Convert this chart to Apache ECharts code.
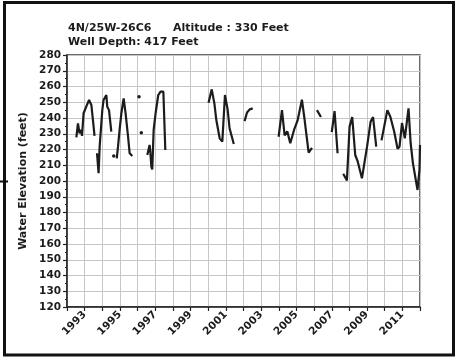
<!DOCTYPE html>
<html>
<head>
<meta charset="utf-8">
<script src="https://cdn.jsdelivr.net/npm/echarts@6/dist/echarts.min.js"></script>
<style>
  html, body { margin: 0; padding: 0; background: #ffffff; }
  #chart { width: 462px; height: 358px; }
</style>
</head>
<body>
<div id="chart"></div>
<script>
// Well 4N/25W-26C6 water elevation record; null entries break the line between measurement runs.
const years = [
  1992.53, 1992.62, 1992.71, 1992.81, 1992.85, 1992.94, 1993.09, 1993.25, 1993.38, 1993.47, 1993.56, null,
  1993.70, 1993.79, 1993.85, 1994.00, 1994.07, 1994.23, 1994.28, 1994.38, 1994.51, null,
  1994.65, null,
  1994.82, 1994.89, 1994.98, 1995.08, 1995.21, 1995.32, 1995.46, 1995.55, 1995.70, null,
  1996.08, null,
  1996.21, null,
  1996.55, 1996.68, 1996.72, 1996.78, 1996.83, 1996.91, 1997.02, 1997.17, 1997.30, 1997.46, 1997.57, null,
  2000.02, 2000.20, 2000.35, 2000.46, 2000.65, 2000.80, 2000.95, 2001.10, 2001.21, 2001.45, null,
  2002.06, 2002.20, 2002.35, 2002.52, null,
  2003.99, 2004.18, 2004.33, 2004.48, 2004.65, 2004.88, 2005.07, 2005.31, 2005.44, 2005.69, 2005.88, null,
  2006.16, 2006.39, null,
  2007.00, 2007.16, 2007.33, null,
  2007.65, 2007.86, 2008.01, 2008.16, 2008.33, 2008.46, 2008.71, 2009.00, 2009.20, 2009.34, 2009.52, null,
  2009.82, 2010.15, 2010.32, 2010.54, 2010.73, 2010.84, 2010.98, 2011.14, 2011.35, 2011.47, 2011.60, 2011.86, 2011.97, 2012.00
];
const levels = [
  227.7, 236.6, 230.3, 232.4, 228.6, 243.0, 247.2, 251.4, 248.3, 238.7, 228.6, null,
  217.6, 204.9, 221.8, 245.0, 251.4, 254.6, 247.2, 245.0, 231.3, null,
  215.9, null,
  214.4, 221.8, 232.4, 243.0, 252.5, 243.0, 228.1, 217.6, 215.9, null,
  253.5, null,
  230.7, null,
  216.5, 222.9, 218.6, 209.1, 207.4, 232.4, 243.0, 254.6, 256.7, 256.7, 219.7, null,
  249.7, 258.2, 249.3, 238.7, 227.1, 225.0, 254.6, 245.5, 233.5, 223.5, null,
  238.0, 243.5, 245.5, 246.1, null,
  228.1, 245.0, 228.9, 231.5, 224.0, 233.0, 238.7, 251.6, 240.8, 218.0, 221.1, null,
  245.0, 240.6, null,
  231.0, 244.4, 217.6, null,
  204.6, 200.4, 234.5, 240.6, 216.5, 212.8, 201.7, 221.8, 237.6, 240.6, 221.8, null,
  225.8, 245.0, 240.8, 231.3, 220.5, 221.8, 236.8, 227.1, 246.1, 224.0, 211.2, 194.3, 207.0, 222.9
];
const titleLine1 = ['4N/25W-26C6', 'Altitude : 330 Feet'];
const titleLine2 = 'Well Depth: 417 Feet';
const yAxisTitle = 'Water Elevation (feet)';
const yRange = [120, 280];
const xRange = [1992, 2012];

const seriesData = years.map((y, i) => (y === null ? [null, null] : [y, levels[i]]));
// A lone reading between two gaps is shown as a small dot.
const isLone = i => levels[i] !== null &&
  (i === 0 || levels[i - 1] === null) &&
  (i === levels.length - 1 || levels[i + 1] === null);

const FONT = '"DejaVu Sans", sans-serif';
const ink = '#1c1c1c';

const chart = echarts.init(document.getElementById('chart'), null, { renderer: 'canvas' });
chart.setOption({
  animation: false,
  backgroundColor: '#ffffff',
  grid: { left: 67, right: 42, top: 55, bottom: 51, show: true, borderColor: '#3a3a3a', borderWidth: 1.5 },
  xAxis: {
    type: 'value', min: xRange[0], max: xRange[1], interval: 1,
    axisLine: { lineStyle: { color: '#222', width: 1.5 } },
    axisTick: { show: true, length: 4, lineStyle: { color: '#222', width: 1.2 } },
    axisLabel: {
      rotate: 45, margin: 6, color: ink, fontFamily: FONT, fontWeight: 'bold', fontSize: 10.5,
      formatter: v => (Math.round(v) % 2 === 1 ? String(Math.round(v)) : '')
    },
    splitLine: { show: true, lineStyle: { color: '#c6c6c6', width: 1 } }
  },
  yAxis: {
    type: 'value', min: yRange[0], max: yRange[1], interval: 10,
    name: yAxisTitle, nameLocation: 'middle', nameGap: 31,
    nameTextStyle: { color: ink, fontFamily: FONT, fontWeight: 'bold', fontSize: 11 },
    axisLine: { show: true, lineStyle: { color: '#222', width: 1.5 } },
    axisTick: { show: true, length: 4, lineStyle: { color: '#222', width: 1.2 } },
    minorTick: { show: true, splitNumber: 2, length: 2, lineStyle: { color: '#222', width: 1 } },
    axisLabel: { margin: 6, color: ink, fontFamily: FONT, fontWeight: 'bold', fontSize: 10.5 },
    splitLine: { show: true, lineStyle: { color: '#c6c6c6', width: 1 } }
  },
  series: [{
    type: 'line',
    data: seriesData,
    connectNulls: false,
    showSymbol: true,
    showAllSymbol: true,
    symbol: 'circle',
    symbolSize: (val, params) => (isLone(params.dataIndex) ? 3.5 : 0),
    itemStyle: { color: ink },
    lineStyle: { color: ink, width: 2.2 },
    clip: true
  }],
  graphic: [
    { type: 'text', left: 68, top: 23,
      style: { text: titleLine1[0], fill: ink, font: 'bold 11px ' + FONT } },
    { type: 'text', left: 173, top: 23,
      style: { text: titleLine1[1], fill: ink, font: 'bold 11px ' + FONT } },
    { type: 'text', left: 68, top: 37,
      style: { text: titleLine2, fill: ink, font: 'bold 11px ' + FONT } },
    { type: 'rect', shape: { x: 4.5, y: 2.5, width: 449, height: 352.5 },
      style: { fill: 'none', stroke: '#111', lineWidth: 3 }, silent: true },
    { type: 'line', shape: { x1: 0, y1: 181.5, x2: 8, y2: 181.5 },
      style: { stroke: '#111', lineWidth: 2 }, silent: true }
  ]
});
</script>
</body>
</html>
